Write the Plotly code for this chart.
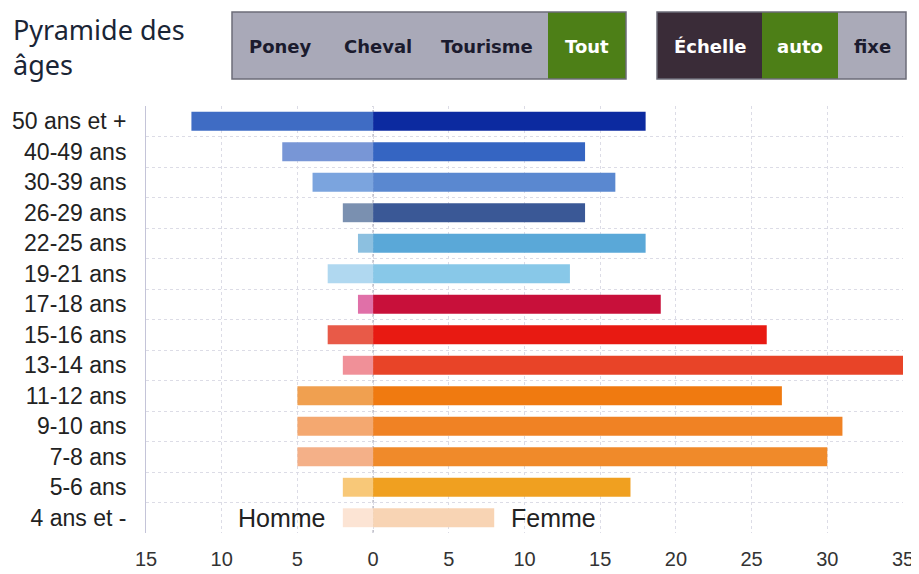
import plotly.graph_objects as go

categories = ["50 ans et +", "40-49 ans", "30-39 ans", "26-29 ans", "22-25 ans",
              "19-21 ans", "17-18 ans", "15-16 ans", "13-14 ans", "11-12 ans",
              "9-10 ans", "7-8 ans", "5-6 ans", "4 ans et -"]
homme = [12, 6, 4, 2, 1, 3, 1, 3, 2, 5, 5, 5, 2, 2]
femme = [18, 14, 16, 14, 18, 13, 19, 26, 35, 27, 31, 30, 17, 8]
homme_colors = ["#3f6cc4", "#7896d6", "#7ba4de", "#7a90b0", "#8cc0e0", "#b0d8f0",
                "#e070a8", "#e85a48", "#f09098", "#f0a050", "#f4a870", "#f4b088",
                "#f8c878", "#fce4d4"]
femme_colors = ["#0c2aa0", "#3565c2", "#5a88d0", "#3a5896", "#5aa8d8", "#88c8e8",
                "#c8103a", "#e81a12", "#e84428", "#f07a10", "#f08224", "#f08a2a",
                "#f0a020", "#f8d4b4"]
x_ticks = [-15, -10, -5, 0, 5, 10, 15, 20, 25, 30, 35]
x_labels = ["15", "10", "5", "0", "5", "10", "15", "20", "25", "30", "35"]

# page is offset by the default 8px body margin
OFF = 8
W, H = 919 - OFF, 574 - OFF
L, R, T, B = 146 - OFF, 16, 106 - OFF, 41
PW, PH = W - L - R, H - T - B

def px(xp):  # page pixel -> paper
    return (xp - OFF - L) / PW

def py(yp):
    return (H - B - (yp - OFF)) / PH

idx = list(range(len(categories)))

fig = go.Figure()
fig.add_trace(go.Bar(y=idx, x=[-v for v in homme], orientation="h", name="Homme",
                     marker=dict(color=homme_colors, line=dict(width=0))))
fig.add_trace(go.Bar(y=idx, x=femme, orientation="h", name="Femme",
                     marker=dict(color=femme_colors, line=dict(width=0))))

fig.update_layout(
    width=W, height=H, margin=dict(l=L, r=R, t=T, b=B, autoexpand=False),
    paper_bgcolor="white", plot_bgcolor="white",
    barmode="relative", bargap=0.38, showlegend=False,
    font=dict(family="Liberation Sans, Arial, sans-serif", color="#222"),
)
fig.update_xaxes(range=[-15, 35], tickvals=x_ticks, ticktext=x_labels, automargin=False,
                 showgrid=True, gridcolor="#dcdce6", griddash="dot", gridwidth=1,
                 zeroline=False, ticklabelstandoff=12,
                 tickfont=dict(size=20, color="#333"), ticks="", showline=False)
fig.update_yaxes(range=[13.5, -0.5], tickvals=idx, ticktext=categories, automargin=False,
                 showgrid=False, zeroline=False,
                 showline=True, linecolor="#c4c4d8", linewidth=1,
                 tickfont=dict(size=23, color="#222"), ticks="", ticklabelstandoff=14,
                 minor=dict(tick0=0.5, dtick=1, showgrid=True, gridcolor="#dcdce6",
                            griddash="dot", gridwidth=1, ticks=""))

shapes = []
ann = []
# zero line (dotted)
shapes.append(dict(type="line", xref="x", yref="paper", x0=0, x1=0, y0=0, y1=1,
                   line=dict(color="#9a9aaa", width=1, dash="dot"), layer="below"))
# title
ann.append(dict(x=px(11), y=py(9), xref="paper", yref="paper", xanchor="left", yanchor="top",
                text="Pyramide des<br>âges", showarrow=False, align="left",
                font=dict(family="Noto Sans, DejaVu Sans, sans-serif", size=27, color="#1a2536")))

# button backgrounds
btn_top, btn_bot = 12, 79
blocks = [(232, 548, "#a9a9b8"), (548, 626, "#4d7f17"),
          (657, 762, "#3a2c38"), (762, 838, "#4d7f17"), (838, 906, "#aaaab8")]
for x0, x1, c in blocks:
    shapes.append(dict(type="rect", xref="paper", yref="paper",
                       x0=px(x0), x1=px(x1), y0=py(btn_bot), y1=py(btn_top),
                       fillcolor=c, line=dict(width=0), layer="above"))
for x0, x1 in [(232, 626), (657, 906)]:
    shapes.append(dict(type="rect", xref="paper", yref="paper",
                       x0=px(x0), x1=px(x1), y0=py(btn_bot), y1=py(btn_top),
                       fillcolor="rgba(0,0,0,0)", line=dict(width=1.5, color="#6c6c78"),
                       layer="above"))

buttons = [("Poney", 280, "#1b1b2e"), ("Cheval", 378, "#1b1b2e"), ("Tourisme", 487, "#1b1b2e"),
           ("Tout", 587, "white"), ("Échelle", 710, "white"), ("auto", 800, "white"),
           ("fixe", 872, "#1b1b2e")]
for t, xc, c in buttons:
    ann.append(dict(x=px(xc), y=py(46), xref="paper", yref="paper", xanchor="center",
                    yanchor="middle", text="<b>%s</b>" % t, showarrow=False,
                    font=dict(family="DejaVu Sans, sans-serif", size=18, color=c)))

# Homme / Femme labels
ann.append(dict(x=-3, y=13, xref="x", yref="y", xanchor="right", yanchor="middle",
                text="Homme", showarrow=False,
                font=dict(family="Liberation Sans, Arial, sans-serif", size=25, color="#222")))
ann.append(dict(x=9, y=13, xref="x", yref="y", xanchor="left", yanchor="middle",
                text="Femme", showarrow=False,
                font=dict(family="Liberation Sans, Arial, sans-serif", size=25, color="#222")))

fig.update_layout(shapes=shapes, annotations=ann)
fig.write_html("out.html")
